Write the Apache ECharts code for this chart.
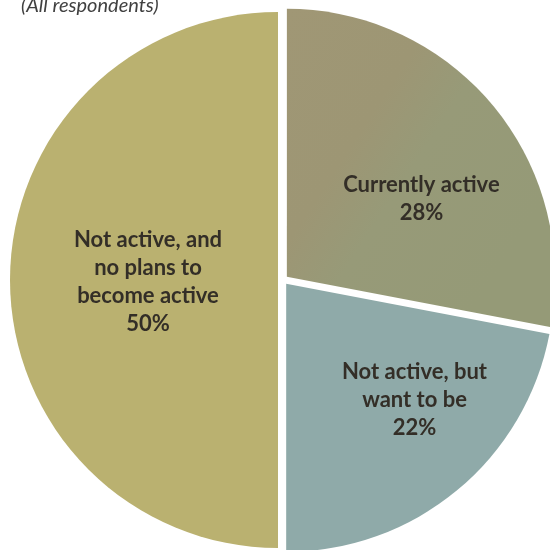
<!DOCTYPE html>
<html>
<head>
<meta charset="utf-8">
<script src="https://cdn.jsdelivr.net/npm/echarts@6/dist/echarts.min.js"></script>
<style>
html,body{margin:0;padding:0;background:#fff;}
#chart{width:550px;height:550px;}
</style>
</head>
<body>
<div id="chart"></div>
<script>
var subtitle = '(All respondents)';
var categories = ['Currently active', 'Not active, but\nwant to be', 'Not active, and\nno plans to\nbecome active'];
var values = [28, 22, 50];

// styling / label nudges (pixels) per slice
var labelShift = [[29, 9], [41, 10], [7, 2]];
var sliceColors = [
  {type: 'linear', x: 0, y: 0, x2: 1, y2: 0.55, colorStops: [
    {offset: 0, color: '#a09775'}, {offset: 0.4, color: '#9d9674'},
    {offset: 0.6, color: '#979a78'}, {offset: 1, color: '#959a77'}]},
  '#8faaa9',
  '#bab170'
];

var chart = echarts.init(document.getElementById('chart'), null, {renderer: 'canvas'});
chart.setOption({
  animation: false,
  title: {
    text: subtitle,
    left: 16,
    top: -9,
    textStyle: {fontFamily: 'Lato', fontStyle: 'italic', fontWeight: 'normal', fontSize: 20, color: '#404040'}
  },
  series: [{
    type: 'pie',
    center: [283, 280],
    radius: [0, 268],
    startAngle: 90,
    clockwise: true,
    selectedMode: 'multiple',
    selectedOffset: 5,
    avoidLabelOverlap: false,
    emphasis: {disabled: true},
    labelLine: {show: false},
    label: {
      show: true,
      position: 'inside',
      fontFamily: 'Lato',
      fontWeight: 'bold',
      fontSize: 22,
      lineHeight: 28,
      color: '#332e27',
      formatter: function (p) { return p.name + '\n' + p.value + '%'; }
    },
    labelLayout: function (p) {
      var s = labelShift[p.dataIndex];
      return {dx: s[0], dy: s[1]};
    },
    data: categories.map(function (c, i) {
      return {
        name: c, value: values[i], selected: true,
        itemStyle: {color: sliceColors[i]},
        select: {itemStyle: {color: sliceColors[i], borderWidth: 0}}
      };
    })
  }]
});
</script>
</body>
</html>
